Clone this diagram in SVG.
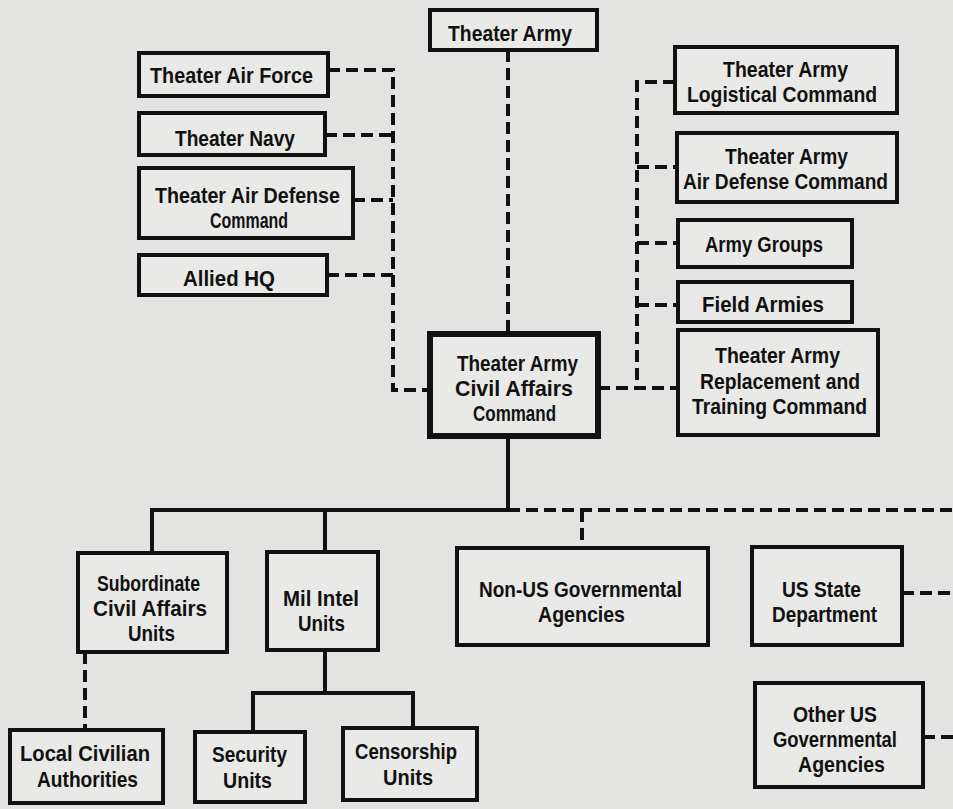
<svg xmlns="http://www.w3.org/2000/svg" width="953" height="809" viewBox="0 0 953 809">
<style>
.bg{fill:#e3e3e1}
.box{fill:#e9e9e7;stroke:#111;stroke-width:4}
.main{fill:#e9e9e7;stroke:#111;stroke-width:6}
.t{font-family:"Liberation Sans",Arial,sans-serif;font-weight:bold;font-size:22px;fill:#111}
.solid{fill:none;stroke:#111;stroke-width:4}
.dash{fill:none;stroke:#111;stroke-width:4;stroke-dasharray:12 6}
</style>
<rect class="bg" x="0" y="0" width="953" height="809"/>
<g id="connectors">
<path class="dash" d="M508,50 V333"/>
<path class="dash" d="M328,70 H393 V390 H430"/>
<path class="dash" d="M325,135 H393"/>
<path class="dash" d="M353,200 H393"/>
<path class="dash" d="M327,275 H393"/>
<path class="dash" d="M675,82 H637 V388"/>
<path class="dash" d="M637,167 H677"/>
<path class="dash" d="M637,243 H678"/>
<path class="dash" d="M637,305 H678"/>
<path class="dash" d="M598,388 H678"/>
<path class="solid" d="M508,437 V510 H152 V553"/>
<path class="solid" d="M325,510 V552"/>
<path class="solid" d="M325,650 V693"/>
<path class="solid" d="M253,732 V693 H413 V728"/>
<path class="dash" d="M508,510 H953"/>
<path class="dash" d="M582,510 V548"/>
<path class="dash" d="M85,652 V730"/>
<path class="dash" d="M902,593 H953"/>
<path class="dash" d="M923,737 H953"/>
</g>
<g id="theater-army"><rect class="box" x="430" y="10" width="167" height="40"/><text class="t" x="448" y="41" textLength="124" lengthAdjust="spacingAndGlyphs">Theater Army</text></g>
<g id="theater-air-force"><rect class="box" x="139" y="53" width="189" height="43"/><text class="t" x="150" y="83" textLength="163" lengthAdjust="spacingAndGlyphs">Theater Air Force</text></g>
<g id="theater-navy"><rect class="box" x="139" y="113" width="186" height="42"/><text class="t" x="175" y="146" textLength="120" lengthAdjust="spacingAndGlyphs">Theater Navy</text></g>
<g id="theater-air-defense-command"><rect class="box" x="139" y="168" width="214" height="70"/><text class="t" x="155" y="203" textLength="185" lengthAdjust="spacingAndGlyphs">Theater Air Defense</text><text class="t" x="210" y="228" textLength="78" lengthAdjust="spacingAndGlyphs">Command</text></g>
<g id="allied-hq"><rect class="box" x="139" y="255" width="188" height="40"/><text class="t" x="183" y="286" textLength="92" lengthAdjust="spacingAndGlyphs">Allied HQ</text></g>
<g id="logistical-command"><rect class="box" x="675" y="47" width="222" height="66"/><text class="t" x="723" y="77" textLength="125" lengthAdjust="spacingAndGlyphs">Theater Army</text><text class="t" x="687" y="102" textLength="190" lengthAdjust="spacingAndGlyphs">Logistical Command</text></g>
<g id="army-air-defense-command"><rect class="box" x="677" y="133" width="220" height="69"/><text class="t" x="725" y="164" textLength="123" lengthAdjust="spacingAndGlyphs">Theater Army</text><text class="t" x="683" y="189" textLength="205" lengthAdjust="spacingAndGlyphs">Air Defense Command</text></g>
<g id="army-groups"><rect class="box" x="678" y="220" width="174" height="47"/><text class="t" x="705" y="252" textLength="118" lengthAdjust="spacingAndGlyphs">Army Groups</text></g>
<g id="field-armies"><rect class="box" x="678" y="282" width="174" height="40"/><text class="t" x="702" y="312" textLength="122" lengthAdjust="spacingAndGlyphs">Field Armies</text></g>
<g id="replacement-training"><rect class="box" x="678" y="330" width="200" height="105"/><text class="t" x="715" y="363" textLength="125" lengthAdjust="spacingAndGlyphs">Theater Army</text><text class="t" x="700" y="389" textLength="160" lengthAdjust="spacingAndGlyphs">Replacement and</text><text class="t" x="692" y="414" textLength="175" lengthAdjust="spacingAndGlyphs">Training Command</text></g>
<g id="civil-affairs-command"><rect class="main" x="430" y="334" width="168" height="102"/><text class="t" x="457" y="371" textLength="121" lengthAdjust="spacingAndGlyphs">Theater Army</text><text class="t" x="455" y="396" textLength="118" lengthAdjust="spacingAndGlyphs">Civil Affairs</text><text class="t" x="473" y="421" textLength="83" lengthAdjust="spacingAndGlyphs">Command</text></g>
<g id="subordinate-ca-units"><rect class="box" x="78" y="553" width="149" height="99"/><text class="t" x="97" y="591" textLength="103" lengthAdjust="spacingAndGlyphs">Subordinate</text><text class="t" x="93" y="616" textLength="114" lengthAdjust="spacingAndGlyphs">Civil Affairs</text><text class="t" x="128" y="641" textLength="47" lengthAdjust="spacingAndGlyphs">Units</text></g>
<g id="mil-intel-units"><rect class="box" x="267" y="552" width="111" height="98"/><text class="t" x="283" y="606" textLength="76" lengthAdjust="spacingAndGlyphs">Mil Intel</text><text class="t" x="298" y="631" textLength="47" lengthAdjust="spacingAndGlyphs">Units</text></g>
<g id="non-us-agencies"><rect class="box" x="457" y="548" width="251" height="97"/><text class="t" x="479" y="597" textLength="203" lengthAdjust="spacingAndGlyphs">Non-US Governmental</text><text class="t" x="538" y="622" textLength="87" lengthAdjust="spacingAndGlyphs">Agencies</text></g>
<g id="us-state-department"><rect class="box" x="752" y="547" width="150" height="98"/><text class="t" x="782" y="597" textLength="79" lengthAdjust="spacingAndGlyphs">US State</text><text class="t" x="772" y="622" textLength="105" lengthAdjust="spacingAndGlyphs">Department</text></g>
<g id="other-us-agencies"><rect class="box" x="755" y="683" width="168" height="104"/><text class="t" x="793" y="722" textLength="84" lengthAdjust="spacingAndGlyphs">Other US</text><text class="t" x="773" y="747" textLength="124" lengthAdjust="spacingAndGlyphs">Governmental</text><text class="t" x="798" y="772" textLength="87" lengthAdjust="spacingAndGlyphs">Agencies</text></g>
<g id="local-civilian-authorities"><rect class="box" x="10" y="730" width="153" height="73"/><text class="t" x="20" y="761" textLength="130" lengthAdjust="spacingAndGlyphs">Local Civilian</text><text class="t" x="37" y="787" textLength="101" lengthAdjust="spacingAndGlyphs">Authorities</text></g>
<g id="security-units"><rect class="box" x="195" y="732" width="110" height="70"/><text class="t" x="212" y="762" textLength="75" lengthAdjust="spacingAndGlyphs">Security</text><text class="t" x="223" y="788" textLength="49" lengthAdjust="spacingAndGlyphs">Units</text></g>
<g id="censorship-units"><rect class="box" x="343" y="728" width="134" height="72"/><text class="t" x="355" y="759" textLength="102" lengthAdjust="spacingAndGlyphs">Censorship</text><text class="t" x="383" y="785" textLength="50" lengthAdjust="spacingAndGlyphs">Units</text></g>
</svg>
